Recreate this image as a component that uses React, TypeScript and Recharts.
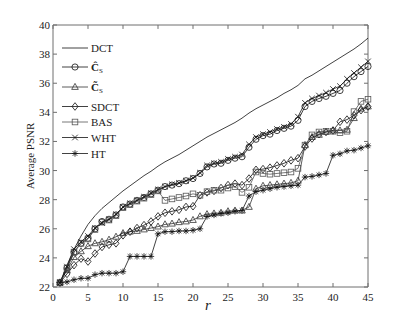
import React from 'react';
import { LineChart, Line, XAxis, YAxis, Legend, ReferenceLine } from 'recharts';

const rValues = [1, 2, 3, 4, 5, 6, 7, 8, 9, 10, 11, 12, 13, 14, 15, 16, 17, 18, 19, 20, 21, 22, 23, 24, 25, 26, 27, 28, 29, 30, 31, 32, 33, 34, 35, 36, 37, 38, 39, 40, 41, 42, 43, 44, 45];

const dct = [22.3, 23.5, 24.6, 25.5, 26.3, 26.9, 27.4, 27.8, 28.2, 28.6, 28.95, 29.3, 29.65, 29.95, 30.3, 30.6, 30.85, 31.1, 31.4, 31.7, 32.0, 32.3, 32.55, 32.8, 33.05, 33.3, 33.6, 33.95, 34.25, 34.5, 34.75, 35.0, 35.3, 35.55, 35.85, 36.3, 36.55, 36.85, 37.15, 37.45, 37.75, 38.05, 38.35, 38.7, 39.1];
const cHat = [22.3, 23.3, 24.4, 25.0, 25.35, 26.0, 26.5, 26.65, 26.95, 27.5, 27.7, 27.95, 28.15, 28.4, 28.65, 28.9, 29.0, 29.1, 29.3, 29.45, 29.8, 30.25, 30.45, 30.5, 30.7, 30.85, 30.95, 31.6, 32.15, 32.4, 32.5, 32.75, 32.9, 33.05, 33.45, 34.4, 34.75, 34.95, 35.1, 35.3, 35.5, 36.0, 36.45, 36.8, 37.15];
const cTilde = [22.3, 23.15, 24.05, 24.45, 24.8, 25.0, 25.1, 25.25, 25.45, 25.7, 25.8, 25.85, 25.95, 26.05, 26.15, 26.3, 26.35, 26.45, 26.5, 26.6, 26.85, 27.0, 27.05, 27.1, 27.2, 27.25, 27.25, 27.5, 28.75, 28.95, 29.0, 29.05, 29.1, 29.15, 29.3, 31.75, 32.3, 32.45, 32.65, 32.75, 32.75, 32.8, 33.6, 34.25, 34.4];
const sdct = [22.3, 22.9, 23.5, 23.95, 23.75, 24.3, 24.75, 24.9, 25.0, 25.55, 25.8, 26.05, 26.25, 26.5, 26.85, 27.1, 27.2, 27.3, 27.5, 27.55, 28.3, 28.5, 28.6, 28.8, 29.0, 29.1, 29.0, 29.45, 30.05, 30.1, 30.2, 30.35, 30.5, 30.7, 30.85, 31.65, 32.2, 32.5, 32.65, 32.75, 33.35, 33.5, 33.8, 34.15, 34.4];
const bas = [22.3, 23.3, 24.4, 25.0, 25.3, 25.95, 26.45, 26.6, 26.9, 27.45, 27.65, 27.9, 28.1, 28.35, 28.6, 27.95, 28.05, 28.15, 28.25, 28.4, 28.3, 28.55, 28.65, 28.65, 28.8, 28.9, 28.5, 28.85, 29.9, 29.8, 29.75, 29.8, 29.85, 29.9, 30.15, 31.75, 32.45, 32.65, 32.7, 32.7, 32.6, 32.7, 34.05, 34.75, 34.9];
const wht = [22.3, 23.4, 24.6, 25.1, 25.5, 26.05, 26.4, 26.65, 27.0, 27.5, 27.75, 27.95, 28.2, 28.45, 28.7, 28.9, 29.05, 29.15, 29.3, 29.5, 29.85, 30.35, 30.5, 30.6, 30.8, 30.95, 31.1, 31.8, 32.3, 32.5, 32.65, 32.85, 33.0, 33.2, 33.7, 34.65, 34.95, 35.15, 35.35, 35.6, 35.8, 36.3, 36.7, 37.1, 37.5];
const ht = [22.3, 22.35, 22.5, 22.6, 22.6, 22.85, 22.95, 22.95, 22.95, 23.05, 24.1, 24.1, 24.1, 24.1, 25.65, 25.8, 25.8, 25.85, 25.85, 25.9, 26.0, 26.85, 26.95, 27.05, 27.1, 27.2, 27.25, 28.25, 28.55, 28.65, 28.75, 28.85, 28.9, 28.95, 29.0, 29.55, 29.6, 29.7, 29.8, 31.05, 31.15, 31.35, 31.4, 31.55, 31.7];

const xTicks = [0, 5, 10, 15, 20, 25, 30, 35, 40, 45];
const yTicks = [22, 24, 26, 28, 30, 32, 34, 36, 38, 40];

const data = rValues.map((r, i) => ({
  r,
  dct: dct[i],
  cHat: cHat[i],
  cTilde: cTilde[i],
  sdct: sdct[i],
  bas: bas[i],
  wht: wht[i],
  ht: ht[i],
}));

const X_MIN = 0;
const X_MAX = 45;
const Y_MIN = 22;
const Y_MAX = 40;
// inward tick length on the top / right box edges, in axis units (~4px)
const TOP_TICK = 0.27;
const RIGHT_TICK = 0.57;

const FONT = '"Liberation Serif", "Times New Roman", Times, serif';
const AXIS = '#6e6e6e';
const INK = '#111';

type Kind = 'none' | 'circle' | 'triangle' | 'diamond' | 'square' | 'x' | 'star';

const series: { key: string; kind: Kind; color: string }[] = [
  { key: 'dct', kind: 'none', color: INK },
  { key: 'cHat', kind: 'circle', color: INK },
  { key: 'cTilde', kind: 'triangle', color: '#333' },
  { key: 'sdct', kind: 'diamond', color: INK },
  { key: 'bas', kind: 'square', color: '#555' },
  { key: 'wht', kind: 'x', color: INK },
  { key: 'ht', kind: 'star', color: INK },
];

function Marker({ kind, cx, cy, color }: { kind: Kind; cx: number; cy: number; color: string }) {
  const sw = 0.8;
  switch (kind) {
    case 'circle':
      return <circle cx={cx} cy={cy} r={3.1} fill="none" stroke={color} strokeWidth={sw} />;
    case 'triangle':
      return (
        <polygon
          points={`${cx},${cy - 3.6} ${cx - 3.3},${cy + 2.4} ${cx + 3.3},${cy + 2.4}`}
          fill="none"
          stroke={color}
          strokeWidth={sw}
        />
      );
    case 'diamond':
      return (
        <polygon
          points={`${cx},${cy - 3.8} ${cx + 3},${cy} ${cx},${cy + 3.8} ${cx - 3},${cy}`}
          fill="none"
          stroke={color}
          strokeWidth={sw}
        />
      );
    case 'square':
      return <rect x={cx - 2.8} y={cy - 2.8} width={5.6} height={5.6} fill="none" stroke={color} strokeWidth={sw} />;
    case 'x':
      return (
        <g stroke={color} strokeWidth={sw}>
          <line x1={cx - 2.8} y1={cy - 2.8} x2={cx + 2.8} y2={cy + 2.8} />
          <line x1={cx - 2.8} y1={cy + 2.8} x2={cx + 2.8} y2={cy - 2.8} />
        </g>
      );
    case 'star':
      return (
        <g stroke={color} strokeWidth={sw}>
          <line x1={cx - 3.2} y1={cy} x2={cx + 3.2} y2={cy} />
          <line x1={cx} y1={cy - 3.2} x2={cx} y2={cy + 3.2} />
          <line x1={cx - 2.3} y1={cy - 2.3} x2={cx + 2.3} y2={cy + 2.3} />
          <line x1={cx - 2.3} y1={cy + 2.3} x2={cx + 2.3} y2={cy - 2.3} />
        </g>
      );
    default:
      return null;
  }
}

function makeDot(kind: Kind, color: string) {
  return (props: any) => {
    const { cx, cy, index } = props;
    if (cx == null || cy == null) return <g key={`${kind}-${index}`} />;
    return (
      <g key={`${kind}-${index}`}>
        <Marker kind={kind} cx={cx} cy={cy} color={color} />
      </g>
    );
  };
}

const XTick = (props: any) => {
  const { x, y, payload } = props;
  return (
    <g>
      <line x1={x} x2={x} y1={y} y2={y - 4} stroke={AXIS} strokeWidth={1} />
      <text x={x} y={y + 14} textAnchor="middle" style={{ fontFamily: FONT }} fontSize={11} fill="#222">
        {payload.value}
      </text>
    </g>
  );
};

const YTick = (props: any) => {
  const { x, y, payload } = props;
  return (
    <g>
      <line x1={x} x2={x + 4} y1={y} y2={y} stroke={AXIS} strokeWidth={1} />
      <text x={x - 3} y={y + 4} textAnchor="end" style={{ fontFamily: FONT }} fontSize={11} fill="#222">
        {payload.value}
      </text>
    </g>
  );
};

const legendRows: { kind: Kind; label: string; y: number; color: string }[] = [
  { kind: 'none', label: 'DCT', y: 40, color: INK },
  { kind: 'circle', label: 'hat', y: 59, color: INK },
  { kind: 'triangle', label: 'tilde', y: 79, color: '#333' },
  { kind: 'diamond', label: 'SDCT', y: 98.5, color: INK },
  { kind: 'square', label: 'BAS', y: 114, color: '#555' },
  { kind: 'x', label: 'WHT', y: 129.5, color: INK },
  { kind: 'star', label: 'HT', y: 145.5, color: INK },
];

function LegendLabel({ label, y }: { label: string; y: number }) {
  const common = { x: 83, y: y + 4, fontSize: 11, fill: '#222', style: { fontFamily: FONT } } as const;
  if (label === 'hat') {
    return (
      <text {...common}>
        <tspan fontWeight="bold">{'\u0108'}</tspan>
        <tspan fontSize={7} dy={2}>S</tspan>
      </text>
    );
  }
  if (label === 'tilde') {
    return (
      <text {...common}>
        <tspan fontWeight="bold">{'C\u0303'}</tspan>
        <tspan fontSize={7} dy={2}>S</tspan>
      </text>
    );
  }
  return <text {...common}>{label}</text>;
}

const renderLegend = () => (
  <svg width={160} height={160} style={{ overflow: 'visible', display: 'block' }}>
    {legendRows.map((row) => (
      <g key={row.label}>
        <line x1={54} x2={80} y1={row.y} y2={row.y} stroke={row.color} strokeWidth={0.8} />
        <Marker kind={row.kind} cx={67} cy={row.y} color={row.color} />
        <LegendLabel label={row.label} y={row.y} />
      </g>
    ))}
  </svg>
);

const YLabel = () => (
  <text
    x={22}
    y={148}
    transform="rotate(-90, 22, 148)"
    textAnchor="middle"
    dominantBaseline="central"
    style={{ fontFamily: FONT }}
    fontSize={11}
    fill="#222"
  >
    Average PSNR
  </text>
);

const XLabel = () => (
  <text x={200} y={302} textAnchor="middle" style={{ fontFamily: FONT }} fontStyle="italic" fontSize={15} fill="#222">
    r
  </text>
);

export default function App() {
  return (
    <div style={{ width: 391, height: 309, background: '#fff' }}>
      <LineChart width={391} height={309} data={data} margin={{ top: 17, right: 31, left: 0, bottom: 10 }}>
        <XAxis
          dataKey="r"
          type="number"
          domain={[X_MIN, X_MAX]}
          ticks={xTicks}
          interval={0}
          height={20}
          tickSize={0}
          tickMargin={0}
          tickLine={false}
          axisLine={{ stroke: AXIS, strokeWidth: 1 }}
          tick={<XTick />}
          label={<XLabel />}
        />
        <YAxis
          type="number"
          domain={[Y_MIN, Y_MAX]}
          ticks={yTicks}
          interval={0}
          width={45}
          tickSize={0}
          tickMargin={0}
          tickLine={false}
          axisLine={{ stroke: AXIS, strokeWidth: 1 }}
          tick={<YTick />}
          label={<YLabel />}
        />
        <ReferenceLine y={Y_MAX} stroke={AXIS} strokeWidth={1} ifOverflow="visible" />
        <ReferenceLine x={X_MAX} stroke={AXIS} strokeWidth={1} ifOverflow="visible" />
        {xTicks.map((t) => (
          <ReferenceLine
            key={`tt-${t}`}
            segment={[
              { x: t, y: Y_MAX },
              { x: t, y: Y_MAX - TOP_TICK },
            ]}
            stroke={AXIS}
            strokeWidth={1}
            ifOverflow="visible"
          />
        ))}
        {yTicks.map((t) => (
          <ReferenceLine
            key={`rt-${t}`}
            segment={[
              { x: X_MAX, y: t },
              { x: X_MAX - RIGHT_TICK, y: t },
            ]}
            stroke={AXIS}
            strokeWidth={1}
            ifOverflow="visible"
          />
        ))}
        <Legend
          layout="vertical"
          align="center"
          verticalAlign="middle"
          content={renderLegend}
          wrapperStyle={{ position: 'absolute', top: 0, left: 0, width: 160, height: 160, pointerEvents: 'none' }}
        />
        {series.map((s) => (
          <Line
            key={s.key}
            dataKey={s.key}
            type="linear"
            stroke={s.color}
            strokeWidth={0.8}
            dot={s.kind === 'none' ? false : makeDot(s.kind, s.color)}
            activeDot={false}
            isAnimationActive={false}
            legendType="none"
          />
        ))}
      </LineChart>
    </div>
  );
}
